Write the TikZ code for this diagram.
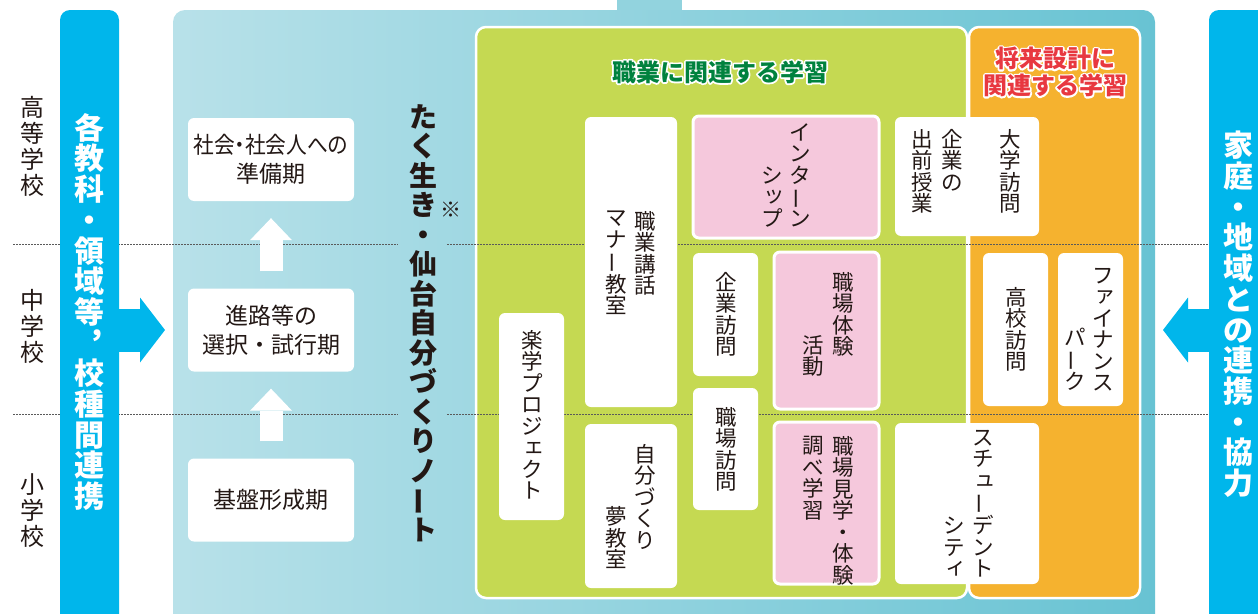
\documentclass[tikz,border=0pt]{standalone}
\usepackage{fontspec}
\setmainfont{Noto Sans CJK JP}
\usepackage{graphicx}
\usetikzlibrary{arrows.meta,positioning}

\definecolor{barblue}{RGB}{0,182,235}
\definecolor{panelleft}{RGB}{184,225,233}
\definecolor{panelright}{RGB}{104,195,211}
\definecolor{leafgreen}{RGB}{197,217,82}
\definecolor{sunorange}{RGB}{245,178,47}
\definecolor{softpink}{RGB}{245,200,220}
\definecolor{titlegreen}{RGB}{0,130,62}
\definecolor{titlered}{RGB}{232,56,64}
\definecolor{ink}{RGB}{35,24,21}
\definecolor{dotgray}{RGB}{90,90,90}

\newcommand\setsz[2]{\fontsize{#1}{#2}\selectfont}
% vertical long vowel and small kana
\newcommand\tbar{\raisebox{.08em}{\rotatebox[origin=c]{90}{ー}}}
\newcommand\sk[1]{\hbox to 1em{\hskip.12em\raisebox{.1em}{#1}\hss}}
% white halo round the panel titles
\newcommand\halo[1]{\rlap{\textcolor{white}{\special{pdf:literal direct 2 Tr 3.4 w 1 j}#1\special{pdf:literal direct 0 Tr}}}#1}

\tikzset{
  box/.style={fill=white, rounded corners=6pt, inner sep=0pt},
  pinkbox/.style={box, fill=softpink, draw=white, line width=3pt},
  tate/.style={align=center, inner sep=0pt, text=ink, font=\setsz{21.5}{21.5}},
  level/.style={align=center, inner sep=0pt, text=ink, font=\setsz{24}{26}},
  bar/.style={fill=barblue, rounded corners=10pt, minimum width=59pt, minimum height=620pt, inner sep=0pt},
  bartext/.style={align=center, inner sep=0pt, text=white, font=\bfseries\setsz{30}{30.7}},
  stage/.style={box, minimum width=166pt, minimum height=83pt, align=center, text=ink, font=\setsz{23}{28.5}},
  uparrow/.style={draw=white, line width=23pt, -{Triangle[width=42pt,length=22pt,line width=0pt]}, shorten <=17pt, shorten >=17pt},
  bararrow/.style={draw=barblue, line width=43pt, -{Triangle[width=65pt,length=25pt,line width=0pt]}},
  gridline/.style={draw=dotgray, line width=1pt, dash pattern=on 1.5pt off 1.5pt},
  paneltitle/.style={align=center, inner sep=0pt, font=\bfseries\setsz{24}{27}}
}

\begin{document}
\begin{tikzpicture}[x=1pt,y=-1pt]
\useasboundingbox (0,0) rectangle (1258,613);
\clip (0,0) rectangle (1258,613);

% panels
\fill[panelleft!52!panelright] (617,-2) rectangle (682,12);
\shade[left color=panelleft, right color=panelright, rounded corners=12pt] (173,10) rectangle (1155,640);
\filldraw[fill=leafgreen, draw=white, line width=2.5pt, rounded corners=10pt] (476,27) rectangle (967,598);
\filldraw[fill=sunorange, draw=white, line width=2.5pt, rounded corners=10pt] (969,27) rectangle (1140,598);

% school levels
\foreach \y in {244,414}
  \draw[gridline] (13,\y) -- (398,\y) (447,\y) -- (1208,\y);
\node[level, anchor=north] (high) at (32,96) {高\\等\\学\\校};
\node[level, anchor=north] (junior) at (32,289) {中\\学\\校};
\node[level, anchor=north] (elementary) at (32,473) {小\\学\\校};

% side bars
\node[bar] (school) at (89.5,320) {};
\node[bartext, anchor=north] (schooltext) at (89.5,113) {各\\教\\科\\・\\領\\域\\等\\︐\\校\\種\\間\\連\\携};
\node[bar] (home) at (1238.5,320) {};
\node[bartext, anchor=north] (hometext) at (1238.5,131) {家\\庭\\・\\地\\域\\と\\の\\連\\携\\・\\協\\力};
\coordinate (leftin) at (165,330);
\coordinate (rightin) at (1163,330);
\draw[bararrow] (school.east |- leftin) -- (leftin);
\draw[bararrow] (home.west |- rightin) -- (rightin);

% stages
\node[stage] (prep) at (271,159.5) {\scalebox{0.9}[1]{社会\hbox to .5em{\hss・\hss}社会人への}\\準備期};
\node[stage] (choice) at (271,330) {進路等の\\選択・試行期};
\node[stage] (base) at (271,500) {基盤形成期};
\draw[uparrow] (choice) -- (prep);
\draw[uparrow] (base) -- (choice);

\node[align=center, inner sep=0pt, text=ink, font=\bfseries\setsz{28}{29.5}, anchor=north] (note) at (423,104) {た\\く\\生\\き\\・\\仙\\台\\自\\分\\づ\\く\\り\\ノ\\\tbar\\ト};
\node[inner sep=0pt, text=ink, font=\setsz{21}{21}] (notemark) at (451,210) {※};

% titles
\node[paneltitle, text=titlegreen] (jobtitle) at (720,72) {\halo{職業に関連する学習}};
\node[paneltitle, text=titlered] (futuretitle) at (1055,72) {\halo{将来設計に}\\\halo{関連する学習}};

% activities
\node[box, minimum width=65pt, minimum height=207pt] (lesson) at (531.5,416.5) {};
\node[tate, anchor=north] (lessontext) at (532,330) {楽\\学\\プ\\ロ\\ジ\\\sk{ェ}\\ク\\ト};

\node[box, minimum width=92pt, minimum height=290pt] (manner) at (631,262) {};
\node[tate, anchor=north] (mannerA) at (645,211) {職\\業\\講\\話};
\node[tate, anchor=north] (mannerB) at (616,211) {マ\\ナ\\\tbar\\教\\室};

\node[box, minimum width=92pt, minimum height=164pt] (dream) at (631,506) {};
\node[tate, anchor=north] (dreamA) at (645,444) {自\\分\\づ\\く\\り};
\node[tate, anchor=south] (dreamB) at (616,569) {夢\\教\\室};

\node[pinkbox, minimum width=186pt, minimum height=122pt] (intern) at (786,177) {};
\node[tate, anchor=south] (internA) at (800,227) {イ\\ン\\タ\\\tbar\\ン};
\node[tate, anchor=south] (internB) at (772,227) {シ\\\sk{ッ}\\プ};

\node[box, minimum width=65pt, minimum height=123pt] (visitco) at (725.5,314.5) {};
\node[tate, anchor=north] (visitcotext) at (726,272) {企\\業\\訪\\問};

\node[box, minimum width=65pt, minimum height=122pt] (visitwp) at (725.5,449) {};
\node[tate, anchor=north] (visitwptext) at (726,407) {職\\場\\訪\\問};

\node[pinkbox, minimum width=105pt, minimum height=157pt] (experience) at (826.5,330.5) {};
\node[tate, anchor=north] (experienceA) at (843,272) {職\\場\\体\\験};
\node[tate, anchor=south] (experienceB) at (813,377) {活\\動};

\node[pinkbox, minimum width=105pt, minimum height=162pt] (tour) at (826.5,503) {};
\node[tate, anchor=north] (tourA) at (843,436) {職\\場\\見\\学\\・\\体\\験};
\node[tate, anchor=north] (tourB) at (813,436) {調\\べ\\学\\習};

\node[box, minimum width=144pt, minimum height=119pt] (lecture) at (967,176.5) {};
\node[tate, anchor=north] (lectureA) at (1010,129) {大\\学\\訪\\問};
\node[tate, anchor=north] (lectureB) at (952,129) {企\\業\\の};
\node[tate, anchor=north] (lectureC) at (922,129) {出\\前\\授\\業};

\node[box, minimum width=65pt, minimum height=153pt] (highschool) at (1015.5,329.5) {};
\node[tate, anchor=north] (highschooltext) at (1016,287) {高\\校\\訪\\問};

\node[box, minimum width=65pt, minimum height=153pt] (finance) at (1090.5,329.5) {};
\node[tate, anchor=north] (financeA) at (1103,268) {フ\\\sk{ァ}\\イ\\ナ\\ン\\ス};
\node[tate, anchor=south] (financeB) at (1075,391) {パ\\\tbar\\ク};

\node[box, minimum width=144pt, minimum height=161pt] (student) at (967,503.5) {};
\node[tate, anchor=north] (studentA) at (983,430) {ス\\チ\\\sk{ュ}\\\tbar\\デ\\ン\\ト};
\node[tate, anchor=south] (studentB) at (954,577) {シ\\テ\\\sk{ィ}};
\end{tikzpicture}
\end{document}
